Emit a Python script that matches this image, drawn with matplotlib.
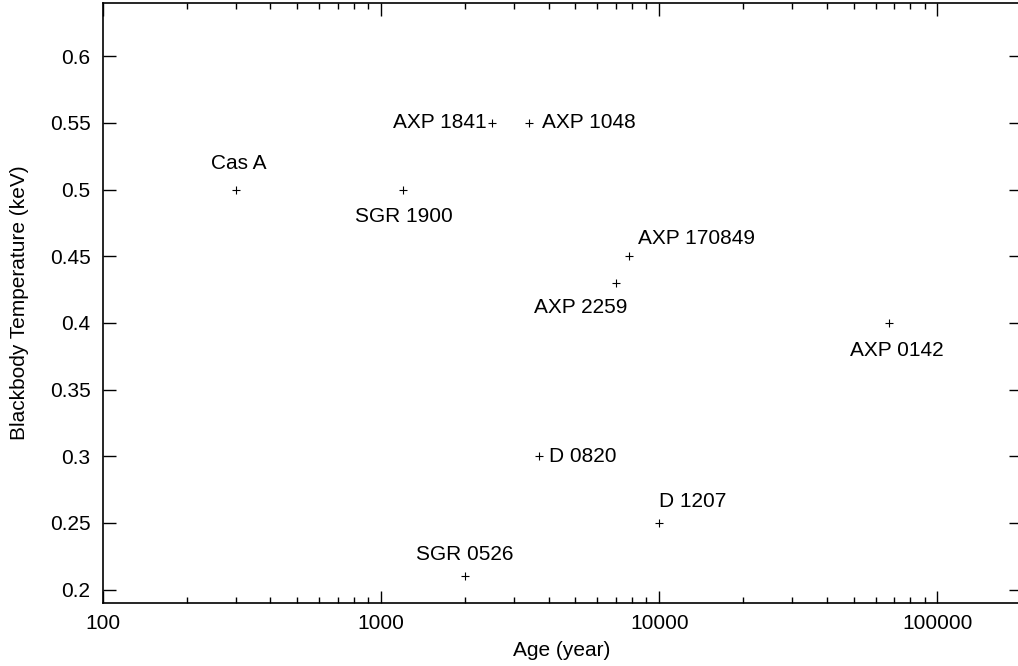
import matplotlib
matplotlib.use("Agg")
from matplotlib import pyplot as plt

plt.rcParams['font.family'] = ['Liberation Sans', 'DejaVu Sans']

names = ["Cas A", "SGR 1900", "AXP 1841", "AXP 1048", "AXP 170849",
         "AXP 2259", "AXP 0142", "D 0820", "D 1207", "SGR 0526"]
age = [300, 1200, 2500, 3400, 7800, 7000, 67000, 3700, 10000, 2000]
temp = [0.5, 0.5, 0.55, 0.55, 0.45, 0.43, 0.4, 0.3, 0.25, 0.21]

# label offset in pixels and alignment for each source
offsets = [(3, 26, "center"), (1, -27, "center"), (-5, 0, "right"),
           (13, 0, "left"), (9, 18, "left"), (-35, -25, "center"),
           (8, -28, "center"), (10, 0, "left"), (0, 21, "left"),
           (0, 22, "center")]

fig = plt.figure(figsize=(10.18, 6.66), dpi=100)
ax = fig.add_axes([103 / 1018, 1 - 603 / 666, (1021 - 103) / 1018, 600 / 666])

ax.plot(age, temp, "k+", markersize=6, markeredgewidth=0.8)

for n, x, y, (dx, dy, ha) in zip(names, age, temp, offsets):
    ax.annotate(n, (x, y), xytext=(dx, dy), textcoords="offset pixels",
                ha=ha, va="center", fontsize=15)

ax.set_xscale("log")
ax.set_xlim(100, 200000)
ax.set_ylim(0.19, 0.64)
ax.set_yticks([0.2, 0.25, 0.3, 0.35, 0.4, 0.45, 0.5, 0.55, 0.6])
ax.set_yticklabels(["0.2", "0.25", "0.3", "0.35", "0.4", "0.45", "0.5", "0.55", "0.6"])
ax.set_xticks([100, 1000, 10000, 100000])
ax.set_xticklabels(["100", "1000", "10000", "100000"])

ax.tick_params(which="both", direction="in", top=True, right=True,
               labelsize=15, width=1)
ax.tick_params(axis="y", pad=9)
ax.tick_params(axis="x", pad=8)
ax.tick_params(which="major", length=9)
ax.tick_params(which="minor", length=4)
for s in ax.spines.values():
    s.set_linewidth(1.2)

ax.set_xlabel("Age (year)", fontsize=15, labelpad=6)
ax.set_ylabel("Blackbody Temperature (keV)", fontsize=15, labelpad=15)

fig.savefig("out.png", dpi=100)
